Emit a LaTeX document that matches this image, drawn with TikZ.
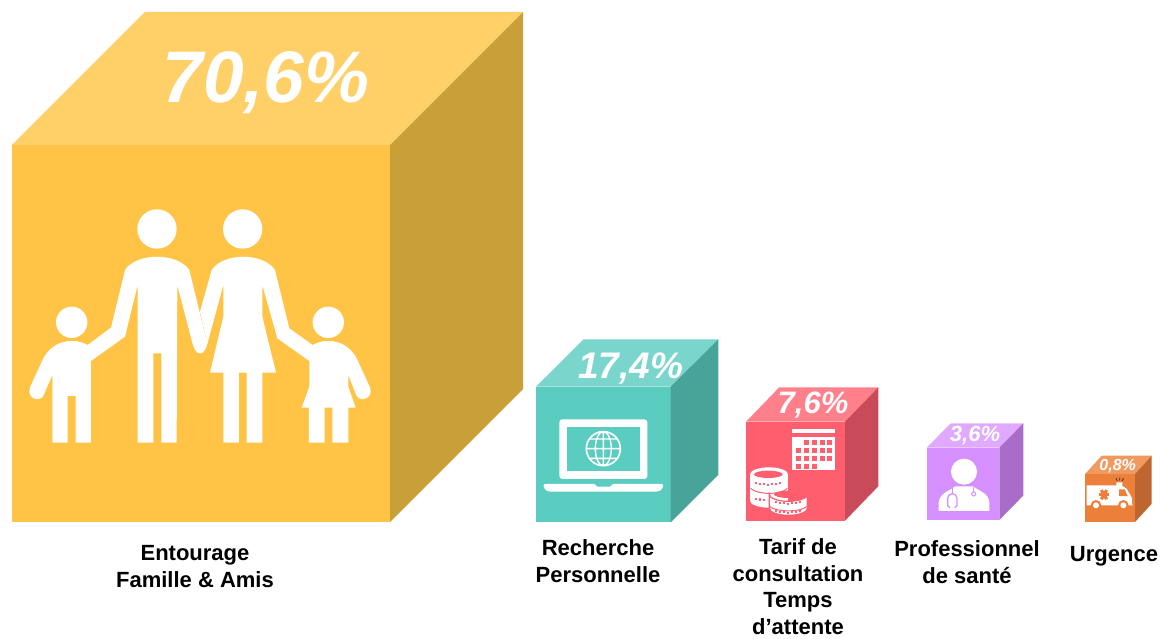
\documentclass[tikz,border=0pt]{standalone}
\usepackage{fontspec}
\setmainfont{Liberation Sans}
\definecolor{yF}{HTML}{FFC445}\definecolor{yT}{HTML}{FFD068}\definecolor{yS}{HTML}{C9A038}
\definecolor{tF}{HTML}{5ACCC0}\definecolor{tT}{HTML}{7AD6CC}\definecolor{tS}{HTML}{48A399}
\definecolor{rF}{HTML}{FF5E6E}\definecolor{rT}{HTML}{FF7F8B}\definecolor{rS}{HTML}{C94A58}
\definecolor{pF}{HTML}{D68FFF}\definecolor{pT}{HTML}{E0A8FF}\definecolor{pS}{HTML}{A96CC9}
\definecolor{oF}{HTML}{EC7F3A}\definecolor{oT}{HTML}{F09A60}\definecolor{oS}{HTML}{BD662F}
\tikzset{
 pct/.style={anchor=base,inner sep=0pt,text=white},
 lbl/.style={anchor=base,inner sep=0pt,align=center,text=black,font=\fontsize{22}{26.5}\selectfont\bfseries},
 icon/.style={fill=white,draw=none}
}
% #1 left #2 top #3 right #4 bottom #5 back dx #6 back dy #7 colour prefix
\newcommand{\mycube}[7]{%
 \fill[#7F] (#1,#2) rectangle (#3,#4);
 \fill[#7T] (#1,#2) -- (#1+#5,#2-#6) -- (#3+#5,#2-#6) -- (#3,#2) -- cycle;
 \fill[#7S] (#3,#2) -- (#3+#5,#2-#6) -- (#3+#5,#4-#6) -- (#3,#4) -- cycle;
}
\newcommand{\mycoin}[3]{% centre x, top-ellipse y, bottom-ellipse y
 \fill[white] (#1,#2) ellipse (57 and 21);
 \fill[white] (#1,#3) ellipse (57 and 21);
 \fill[white] (#1-57,#2) rectangle (#1+57,#3);
}
\begin{document}
\begin{tikzpicture}[x=1pt,y=-1pt]
\useasboundingbox (0,0) rectangle (1169,639);
\mycube{12}{145}{390}{522}{133}{133}{y}
\mycube{536}{386.7}{670.7}{522.3}{47.6}{47.4}{t}
\mycube{746}{421.7}{845}{520.7}{33.3}{34.4}{r}
\mycube{926.7}{447.7}{999.3}{520}{24}{24.4}{p}
\mycube{1085}{474}{1135}{522}{16.7}{18.3}{o}
% family
\begin{scope}[shift={(0,190)},x=0.3333pt,y=-0.3333pt]
 \fill[icon] (471,117) circle (59);
 \fill[icon] (728,117) circle (59);
 \fill[icon] (215,397) circle (47);
 \fill[icon] (985,397) circle (47);
 % man and left child
 \fill[icon] (375,240) .. controls (410,187) and (532,187) .. (568,240) -- (622,462)
   .. controls (612,500) and (588,500) .. (578,462) -- (532,285) -- (530,758) -- (484,758) -- (484,490) -- (460,490) -- (460,758) -- (413,758) -- (413,285) -- (375,440) -- (273,513) -- (273,758) -- (227,758) -- (227,618) -- (203,618) -- (203,758) -- (157,758) -- (157,555) -- (130,618)
   .. controls (118,638) and (78,625) .. (90,592) -- (130,505) .. controls (160,448) and (225,443) .. (263,465) -- (333,413) -- cycle;
 % woman and right child
 \fill[icon] (635,240) .. controls (670,187) and (790,187) .. (825,240) -- (868,415) -- (938,465)
   .. controls (975,443) and (1040,448) .. (1070,505) -- (1110,592) .. controls (1122,625) and (1082,638) .. (1070,618)
   -- (1045,555) -- (1045,590) -- (1067,653) -- (1045,653) -- (1045,758) -- (997,758) -- (997,653) -- (974,653) -- (974,758) -- (927,758) -- (927,653) -- (905,653) -- (928,590) -- (928,513) -- (832,445) -- (787,285) -- (787,380) -- (828,548) -- (787,548) -- (787,758) -- (740,758) -- (740,548) -- (717,548) -- (717,758) -- (670,758) -- (670,548) -- (630,548) -- (670,380) -- (670,285) -- (622,462) -- (600,365) -- cycle;
\end{scope}
% laptop
\begin{scope}[shift={(530,335)},x=0.3333pt,y=-0.3333pt]
 \fill[icon,rounded corners=3pt] (88,253) rectangle (352,432);
 \fill[tF] (110,275) rectangle (330,408);
 \fill[icon,rounded corners=2pt] (40,447) -- (197,447) -- (197,455) -- (245,455) -- (245,447) -- (400,447) -- (398,462) -- (385,470) -- (55,470) -- (42,462) -- cycle;
 \draw[white,line width=1.7pt] (220,341) circle (51);
 \draw[white,line width=1.4pt] (220,341) ellipse (24 and 51) (169,341) -- (271,341) (220,290) -- (220,392) (180,312) -- (260,312) (180,370) -- (260,370);
\end{scope}
% calendar and coins
\begin{scope}[shift={(740,380)},x=0.3333pt,y=-0.3333pt]
 \fill[icon] (157,146) rectangle (286,160);
 \fill[icon] (157,170) rectangle (286,270);
 \foreach \r/\c in {0/1,0/2,0/3,0/4,1/0,1/1,1/2,1/3,1/4,2/0,2/1,2/2,2/3,2/4,3/0,3/1,3/2}
   \fill[rF] ({168+\c*23.5},{181+\r*23.5}) rectangle ++(15,15);
 % left stack
 \mycoin{87}{283}{362}
 \draw[rF,line width=1pt] (32,325) .. controls (50,345) and (125,345) .. (142,325);
 \fill[rF] (85,283) ellipse (43 and 11);
 \foreach \k in {-3,...,3}
   \fill[rF] ({85+\k*12-3},{311-abs(\k)*1.5}) rectangle ++(6,7);
 \foreach \k in {-3,-2,-1}
   \fill[rF] ({85+\k*12-3},{358-abs(\k)*1.5}) rectangle ++(6,7);
 % right stack
 \draw[rF,line width=1.2pt,fill=white] (88,343) arc[start angle=180,end angle=360,x radius=57,y radius=-21] -- (202,385) arc[start angle=0,end angle=-180,x radius=57,y radius=-21] -- cycle;
 \fill[rF] (145,343) ellipse (43 and 11);
 \draw[rF,line width=1pt] (90,380) .. controls (110,397) and (180,397) .. (200,380);
 \foreach \k in {-3,...,3}{
   \fill[rF] ({145+\k*12-3},{368-abs(\k)*1.5}) rectangle ++(6,7);
   \fill[rF] ({145+\k*12-3},{396-abs(\k)*1.5}) rectangle ++(6,6);
 }
\end{scope}
% doctor
\begin{scope}[shift={(920,415)},x=0.3333pt,y=-0.3333pt]
 \fill[icon] (132,170) circle (39);
 \fill[icon] (56,288) -- (56,262) .. controls (60,232) and (90,228) .. (105,214) -- (160,214) .. controls (175,228) and (205,232) .. (208,262) -- (208,288) -- cycle;
 \draw[pF,line width=1.3pt] (97,216) -- (97,236);
 \draw[pF,line width=1.3pt] (90,278) -- (83,272) -- (83,250) arc[start angle=180,end angle=360,radius=14] -- (111,272) -- (104,278);
 \draw[pF,line width=1pt] (161,237) circle (6);
 \draw[pF,line width=0.9pt] (160,216) -- (161,231);
\end{scope}
% ambulance
\begin{scope}[shift={(1085,472)},x=0.3333pt,y=-0.3333pt]
 \fill[icon] (5,40) -- (94,40) -- (94,31) -- (112,31) -- (112,42) -- (125,50) -- (140,76) -- (142,100) -- (5,100) -- cycle;
 \fill[oF] (102,52) -- (119,52) -- (128,72) -- (102,72) -- cycle;
 \foreach \a in {0,60,120} \draw[oF,line width=3.2pt] ({57+16*cos(\a)},{68+16*sin(\a)}) -- ({57-16*cos(\a)},{68-16*sin(\a)});
 \foreach \cx in {33,115}{\fill[oF] (\cx,100) circle (16); \fill[white] (\cx,100) circle (9);}
 \draw[black!70!oF,line width=0.7pt] (97,27) -- (93,19) (104,26) -- (104,17) (111,27) -- (116,19);
\end{scope}
% percentages
\node[pct,font=\fontsize{73}{73}\selectfont\bfseries\itshape] (p1) at (266,103) {70,6\%};
\node[pct,font=\fontsize{37}{37}\selectfont\bfseries\itshape] (p2) at (630.5,378) {17,4\%};
\node[pct,font=\fontsize{31}{31}\selectfont\bfseries\itshape] (p3) at (813,413) {7,6\%};
\node[pct,font=\fontsize{22}{22}\selectfont\bfseries\itshape] (p4) at (975,441) {3,6\%};
\node[pct,font=\fontsize{16}{16}\selectfont\bfseries\itshape] (p5) at (1117.7,470) {0,8\%};
% labels
\node[lbl] (l1) at (195,587) {Entourage\\Famille \& Amis};
\node[lbl] (l2) at (598,582) {Recherche\\Personnelle};
\node[lbl] (l3) at (798,634) {Tarif de\\consultation\\Temps\\d’attente};
\node[lbl] (l4) at (967,583) {Professionnel\\de santé};
\node[lbl] (l5) at (1114,561) {Urgence};
\end{tikzpicture}
\end{document}
